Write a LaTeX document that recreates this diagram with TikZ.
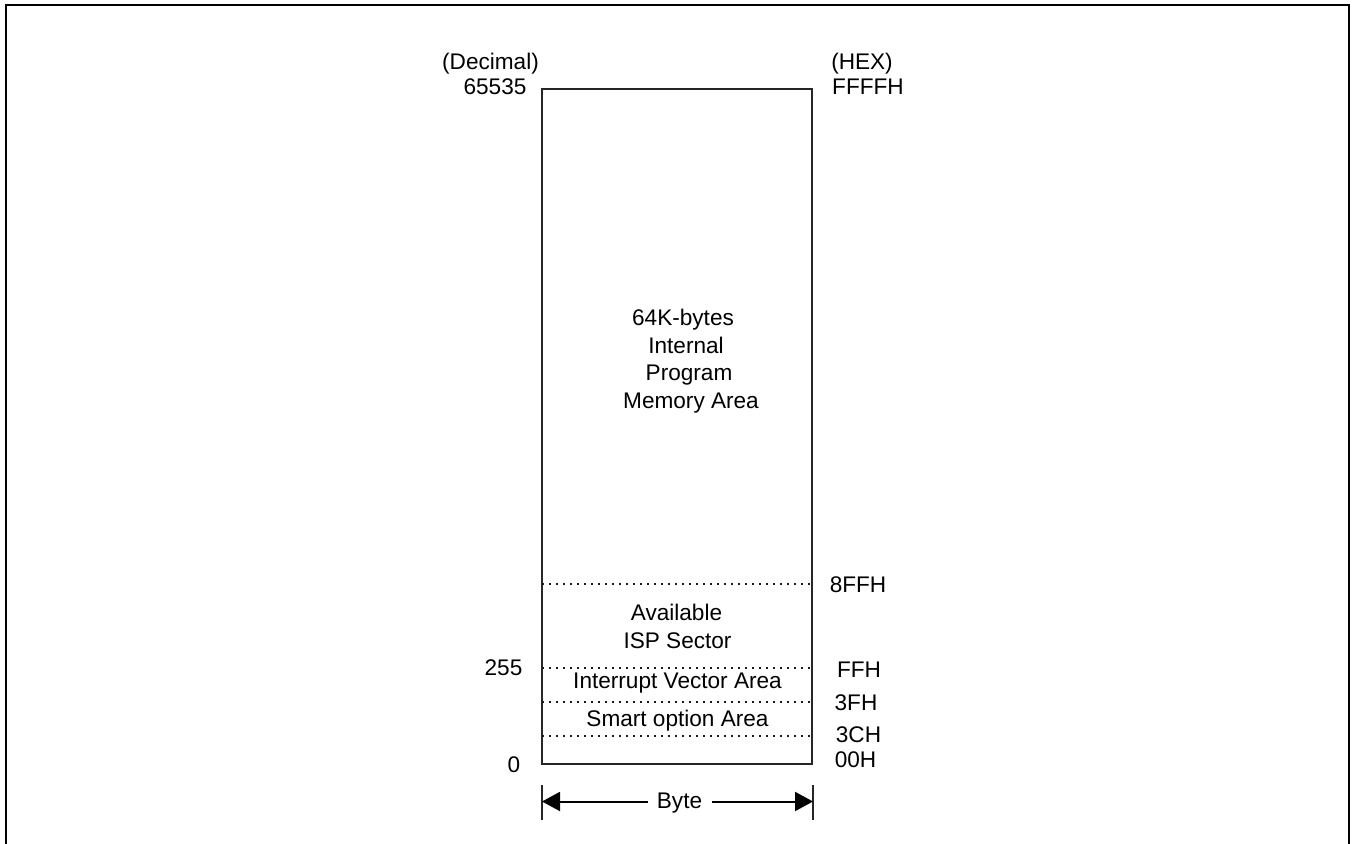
\documentclass[tikz,border=0pt]{standalone}
\usepackage{fontspec}
\setmainfont{Liberation Sans}
\usetikzlibrary{arrows.meta, positioning, calc}

\begin{document}
\begin{tikzpicture}[
    x=0.5pt, y=-0.5pt,
    >={Triangle[length=9pt, width=9.5pt]},
    font=\fontsize{11.3}{13}\selectfont,
    lbl/.style={anchor=base, inner sep=0pt},
    boxline/.style={draw=black!85, line width=0.85pt},
    sector/.style={draw=black!90, line width=1pt, dash pattern=on 1pt off 2.5pt},
    frame/.style={draw, line width=1.4pt},
    tick/.style={draw=black!85, line width=0.6pt}
]
    \useasboundingbox (0,0) rectangle (1352,844);

    % Outer frame (open at the bottom)
    \draw[frame] (6,844) -- (6,5) -- (1349,5) -- (1349,844);

    % Memory block
    \coordinate (tl) at (542,89);
    \coordinate (br) at (812,764);
    \coordinate (bl) at (542,764);
    \coordinate (brt) at (813,764);
    \draw[boxline] (tl) rectangle (br);

    % Sector boundaries
    \foreach \y in {584, 668, 702, 736}
        \draw[sector] (bl |- 0,\y) -- (br |- 0,\y);

    % Address labels
    \node[lbl] (dec)  at (490.5,70) {(Decimal)};
    \node[lbl] (dtop) at (495,95)   {65535};
    \node[lbl] (hex)  at (862,70)   {(HEX)};
    \node[lbl] (htop) at (868,95)   {FFFFH};
    \node[lbl] (h8ff) at (858,592)  {8FFH};
    \node[lbl] (d255) at (503.5,675) {255};
    \node[lbl] (hff)  at (859,677)  {FFH};
    \node[lbl] (h3f)  at (856,710)  {3FH};
    \node[lbl] (h3c)  at (858.5,742) {3CH};
    \node[lbl] (d0)   at (514,772)  {0};
    \node[lbl] (h00)  at (855.5,767) {00H};

    % Area labels
    \node[lbl] (pm1) at (683,325) {64K-bytes};
    \node[lbl] (pm2) at (686,353) {Internal};
    \node[lbl] (pm3) at (689,380) {Program};
    \node[lbl] (pm4) at (691,408) {Memory Area};
    \node[lbl] (isp1) at (676.5,620) {Available};
    \node[lbl] (isp2) at (677.5,648) {ISP Sector};
    \node[lbl] (ivt)  at (677.5,688) {Interrupt Vector Area};
    \node[lbl] (smt)  at (677.5,726) {Smart option Area};

    % Width dimension
    \node[lbl, inner xsep=4.5pt] (byte) at (679.5,808) {Byte};
    \draw[tick] ($(bl)+(0,21)$) -- ($(bl)+(0,56)$);
    \draw[tick] ($(brt)+(0,21)$) -- ($(brt)+(0,56)$);
    \draw[->, line width=1pt] (byte.west |- 0,801.5) -- (bl |- 0,801.5);
    \draw[->, line width=1pt] (byte.east |- 0,801.5) -- (brt |- 0,801.5);

\end{tikzpicture}
\end{document}
